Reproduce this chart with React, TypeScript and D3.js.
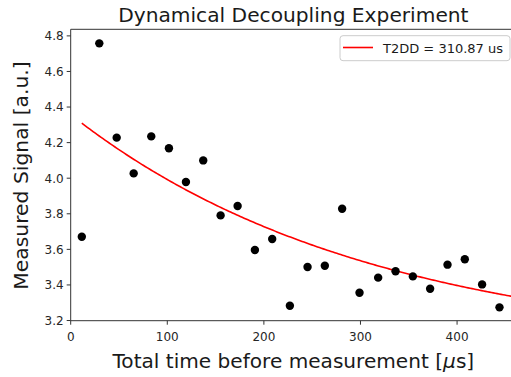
import React from "react";
import * as d3 from "d3";

const timesUs = [11.5, 29.6, 47.6, 65.2, 83.4, 101.7, 119.3, 137.2, 155.2, 172.8, 190.7, 208.6, 226.9, 245.2, 263.1, 281.0, 299.0, 318.3, 336.3, 354.2, 372.1, 390.1, 408.0, 425.9, 443.9];
const signal = [3.671, 4.758, 4.228, 4.027, 4.235, 4.168, 3.979, 4.100, 3.791, 3.844, 3.596, 3.658, 3.283, 3.501, 3.508, 3.828, 3.356, 3.441, 3.477, 3.448, 3.379, 3.514, 3.544, 3.403, 3.274];
const fitAmp = 1.327;
const fitOffset = 3.0305;
const fitT2 = 310.87;
const xTicks = [0, 100, 200, 300, 400];
const yTicks = [3.2, 3.4, 3.6, 3.8, 4.0, 4.2, 4.4, 4.6, 4.8];
const xDomain = [0, 461];
const yDomain = [3.199, 4.837];

const W = 511, H = 377;
const M = { left: 70.7, right: 516, top: 29.3, bottom: 320.7 };
const FONT = "DejaVu Sans, sans-serif";

export default function App() {
  const x = d3.scaleLinear().domain(xDomain).range([M.left, M.right]);
  const y = d3.scaleLinear().domain(yDomain).range([M.bottom, M.top]);
  const fitT = d3.range(timesUs[0], xDomain[1] + 1, 2);
  const line = d3.line<number>()
    .x((t) => x(t))
    .y((t) => y(fitAmp * Math.exp(-t / fitT2) + fitOffset));
  const tickColor = "#262626";
  return (
    <svg width={W} height={H} style={{ position: "absolute", left: 0, top: 0 }}>
      <rect width={W} height={H} fill="white" />
      <defs>
        <clipPath id="plot">
          <rect x={M.left} y={M.top} width={M.right - M.left} height={M.bottom - M.top} />
        </clipPath>
      </defs>
      <text x={(M.left + M.right) / 2} y={21.5} textAnchor="middle" fontFamily={FONT} fontSize={20.2} fill="#1a1a1a">
        Dynamical Decoupling Experiment
      </text>
      <g clipPath="url(#plot)">
        <path d={line(fitT) || ""} fill="none" stroke="#ff0000" strokeWidth={1.6} />
        {timesUs.map((t, i) => (
          <circle key={i} cx={x(t)} cy={y(signal[i])} r={4.2} fill="black" />
        ))}
      </g>
      {/* spines */}
      <line x1={M.left} x2={M.left} y1={M.top} y2={M.bottom} stroke="#333" strokeWidth={1} />
      <line x1={M.left} x2={M.right} y1={M.bottom} y2={M.bottom} stroke="#333" strokeWidth={1} />
      <line x1={M.left} x2={M.right} y1={M.top} y2={M.top} stroke="#333" strokeWidth={1} />
      {xTicks.map((t) => (
        <g key={t}>
          <line x1={x(t)} x2={x(t)} y1={M.bottom} y2={M.bottom + 4} stroke="#333" />
          <text x={x(t)} y={M.bottom + 20} textAnchor="middle" fontFamily={FONT} fontSize={12} fill={tickColor}>
            {t}
          </text>
        </g>
      ))}
      {yTicks.map((v) => (
        <g key={v}>
          <line x1={M.left - 4} x2={M.left} y1={y(v)} y2={y(v)} stroke="#333" />
          <text x={M.left - 7} y={y(v) + 4.3} textAnchor="end" fontFamily={FONT} fontSize={12} fill={tickColor}>
            {v.toFixed(1)}
          </text>
        </g>
      ))}
      <text x={(M.left + M.right) / 2} y={368} textAnchor="middle" fontFamily={FONT} fontSize={20.1} fill="#1a1a1a">
        Total time before measurement [<tspan fontStyle="italic">μ</tspan>s]
      </text>
      <text transform={`translate(27.5,175.5) rotate(-90)`} textAnchor="middle" fontFamily={FONT} fontSize={20.3} fill="#1a1a1a">
        Measured Signal [a.u.]
      </text>
      {/* legend */}
      <rect x={340} y={35.7} width={170} height={25} rx={3} fill="white" fillOpacity={0.8} stroke="#cccccc" strokeWidth={1} />
      <line x1={343} x2={373} y1={47.5} y2={47.5} stroke="#ff0000" strokeWidth={1.6} />
      <text x={383} y={52.5} fontFamily={FONT} fontSize={13} fill="#1a1a1a">
        T2DD = 310.87 us
      </text>
    </svg>
  );
}
